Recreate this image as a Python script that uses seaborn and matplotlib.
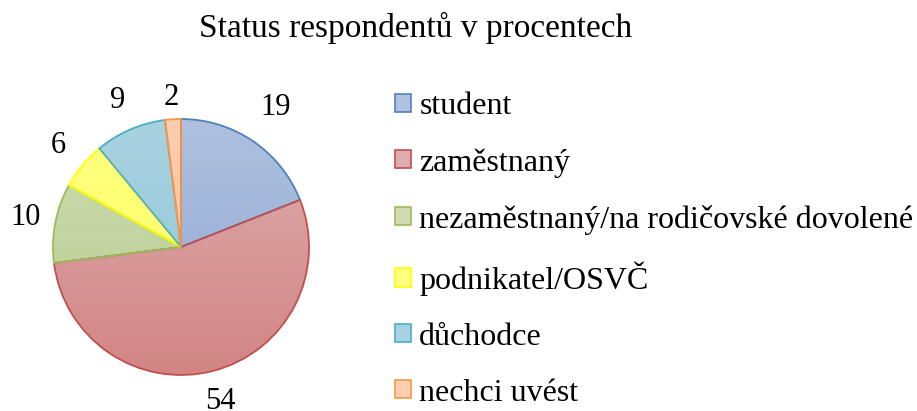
import numpy as np
import matplotlib
matplotlib.use("Agg")
import matplotlib.pyplot as plt
import matplotlib.colors as mcolors
from matplotlib.patches import Patch
import seaborn as sns

categories = ["student", "zaměstnaný", "nezaměstnaný/na rodičovské dovolené",
              "podnikatel/OSVČ", "důchodce", "nechci uvést"]
values = [19, 54, 10, 6, 9, 2]

fill_top = ["#AFC1DF", "#DEAEAE", "#CEDCB0", "#FFFF80", "#A9D2E0", "#FDCDB0"]
fill_bottom = ["#8CA6D3", "#D28584", "#B6CE90", "#FFFF60", "#8EC6D8", "#FBBA90"]
edges = ["#4F81BD", "#C0504D", "#9BBB59", "#FFFF00", "#4BACC6", "#F79646"]
# how far each value label sits from the pie centre (in radii)
label_dist = [1.32, 1.25, 1.24, 1.24, 1.25, 1.17]


def main():
    sns.set_theme(style="white")
    plt.rcParams["font.family"] = ["Liberation Serif", "DejaVu Serif"]
    plt.rcParams["text.color"] = "black"

    W, H = 917, 411
    fig = plt.figure(figsize=(W / 100, H / 100), dpi=100)

    cx, cy, r = 181, 411 - 247, 128
    ax = fig.add_axes([(cx - r) / W, (cy - r) / H, 2 * r / W, 2 * r / H])

    wedges, texts = ax.pie(values, labels=[str(v) for v in values], startangle=90,
                           counterclock=False, radius=1, labeldistance=1.0,
                           colors=fill_top, wedgeprops=dict(linewidth=1.3),
                           textprops=dict(fontsize=22, color="black"))
    for t, d in zip(texts, label_dist):
        x, y = t.get_position()
        t.set_position((x * d, y * d))
        t.set_ha("center")
        t.set_va("center")

    # vertical gradient fill in each wedge
    for w, top, bot, ec in zip(wedges, fill_top, fill_bottom, edges):
        cmap = mcolors.LinearSegmentedColormap.from_list("g", [bot, top])
        grad = np.linspace(0, 1, 256).reshape(-1, 1)
        im = ax.imshow(grad, cmap=cmap, extent=(-1, 1, -1, 1), origin="lower",
                       aspect="auto", zorder=w.get_zorder() - 0.1)
        im.set_clip_path(w)
        w.set_facecolor("none")
        w.set_edgecolor(ec)
    ax.set_xlim(-1, 1)
    ax.set_ylim(-1, 1)
    ax.set_aspect("equal")
    ax.axis("off")

    fig.text(416 / W, 1 - 28 / H, "Status respondentů v procentech",
             ha="center", va="center", fontsize=24)

    handles = [Patch(facecolor=t, edgecolor=e, linewidth=1.2)
               for t, e in zip(fill_top, edges)]
    fig.legend(handles, categories, loc="upper left",
               bbox_to_anchor=(389 / W, 1 - 86 / H), frameon=False,
               fontsize=23, handlelength=0.5, handleheight=0.5,
               handletextpad=0.25, labelspacing=0.84, borderaxespad=0,
               borderpad=0.2)

    fig.savefig("out.png", dpi=100)
    plt.close(fig)


if __name__ == "__main__":
    main()
